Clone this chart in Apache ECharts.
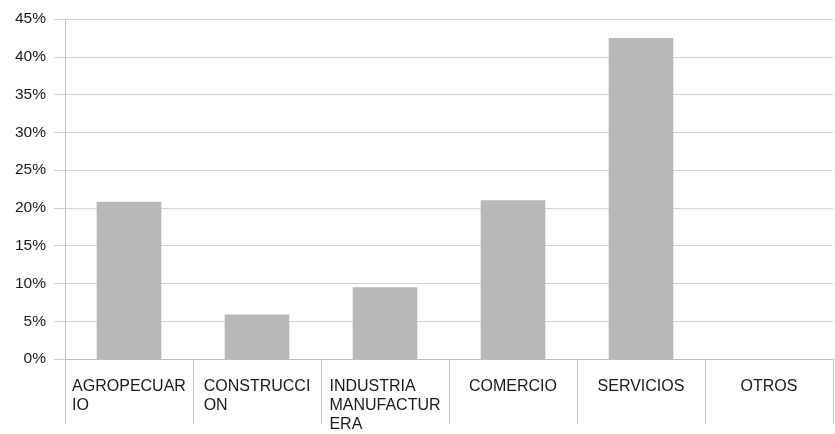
<!DOCTYPE html>
<html>
<head>
<meta charset="utf-8">
<script src="https://cdn.jsdelivr.net/npm/echarts@6/dist/echarts.min.js"></script>
<style>
  html, body { margin: 0; padding: 0; background: #ffffff; }
  #chart { width: 835px; height: 434px; }
</style>
</head>
<body>
<div id="chart"></div>
<script>
// Sector categories and their share of the total (percent)
const categories = ['AGROPECUARIO', 'CONSTRUCCION', 'INDUSTRIA MANUFACTURERA', 'COMERCIO', 'SERVICIOS', 'OTROS'];
const categoryLabels = [
  ['AGROPECUAR', 'IO'],
  ['CONSTRUCCI', 'ON'],
  ['INDUSTRIA', 'MANUFACTUR', 'ERA'],
  ['COMERCIO'],
  ['SERVICIOS'],
  ['OTROS']
];
const shares = [20.8, 5.9, 9.5, 21.0, 42.5, 0];
const yTicks = { min: 0, max: 45, interval: 5 };

const chart = echarts.init(document.getElementById('chart'), null, { renderer: 'canvas' });

chart.setOption({
  animation: false,
  backgroundColor: '#ffffff',
  grid: { left: 65, right: 2, top: 19, bottom: 71 },
  xAxis: {
    type: 'category',
    data: categories,
    axisLine: { show: true, lineStyle: { color: '#bdbdbd', width: 1 } },
    axisTick: {
      show: true,
      alignWithLabel: false,
      length: 65,
      lineStyle: { color: '#c8c8c8', width: 1 }
    },
    axisLabel: {
      interval: 0,
      margin: 18,
      color: '#1a1a1a',
      fontFamily: 'Liberation Sans, Arial, sans-serif',
      fontSize: 16,
      lineHeight: 19,
      align: 'center',
      verticalAlign: 'top',
      formatter: function (value, idx) {
        return categoryLabels[idx].map(function (l) { return '{a|' + l + '}'; }).join('\n');
      },
      rich: {
        a: {
          align: 'left',
          color: '#1a1a1a',
          fontFamily: 'Liberation Sans, Arial, sans-serif',
          fontSize: 16,
          lineHeight: 19
        }
      }
    },
    splitLine: { show: false }
  },
  yAxis: {
    type: 'value',
    min: yTicks.min,
    max: yTicks.max,
    interval: yTicks.interval,
    axisLine: { show: true, lineStyle: { color: '#c4c4c4', width: 1 } },
    axisTick: { show: true, inside: false, length: 11, lineStyle: { color: '#cfcfcf' } },
    axisLabel: {
      margin: 19,
      color: '#1a1a1a',
      fontFamily: 'Liberation Sans, Arial, sans-serif',
      fontSize: 15.5,
      formatter: '{value}%'
    },
    splitLine: { show: true, lineStyle: { color: '#d2d2d2', width: 1 } }
  },
  series: [{
    type: 'bar',
    data: shares,
    barWidth: '50.5%',
    itemStyle: { color: '#b8b8b8' }
  }]
});
</script>
</body>
</html>
